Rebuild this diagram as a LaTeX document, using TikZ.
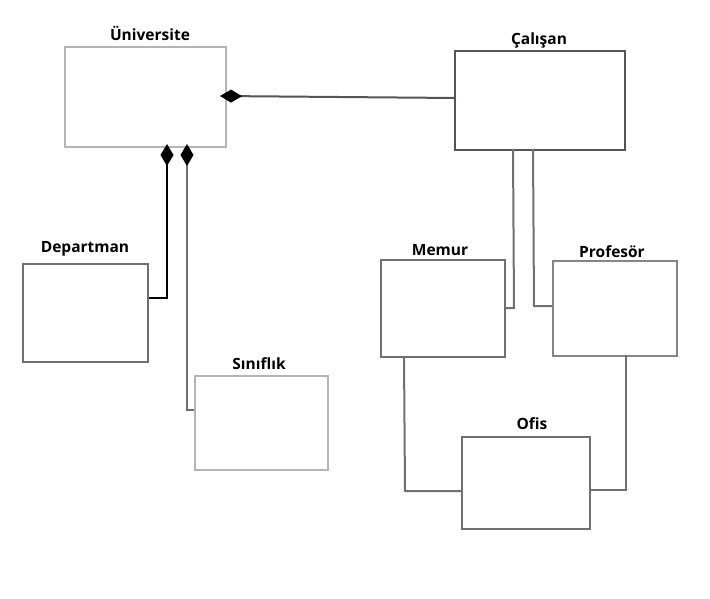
\documentclass[tikz,border=0pt]{standalone}
\usepackage{fontspec}
\setmainfont{Open Sans}
\usetikzlibrary{arrows.meta}
\definecolor{lgray}{HTML}{B4B4B4}
\definecolor{mgray}{HTML}{707070}
\definecolor{dgray}{HTML}{555555}
\begin{document}
\begin{tikzpicture}[x=1pt,y=-1pt,
  box/.style={draw=mgray,line width=2pt,anchor=north west,inner sep=0pt},
  lbl/.style={font=\bfseries\fontsize{15.5}{18}\selectfont,inner sep=0pt},
  conn/.style={draw=mgray,line width=2pt},
  dia/.style={{Diamond[length=22pt,width=13pt,color=black,fill=black]}-}]
\useasboundingbox (0,0) rectangle (710,599);
% boxes
\node[box,draw=lgray,minimum width=161,minimum height=100] (uni) at (64,46) {};
\node[box,draw=dgray,line width=2.3pt,minimum width=170,minimum height=99] (cal) at (454,50) {};
\node[box,minimum width=125,minimum height=98] (dep) at (22,263) {};
\node[box,draw=lgray,minimum width=133,minimum height=94] (sin) at (194,375) {};
\node[box,minimum width=124,minimum height=97] (mem) at (380,259) {};
\node[box,draw=mgray!85,minimum width=124,minimum height=95] (pro) at (552,260) {};
\node[box,minimum width=128,minimum height=92] (ofi) at (461,436) {};
% labels
\node[lbl] (unil) at (150,33) {Üniversite};
\node[lbl] (call) at (539,40) {Çalışan};
\node[lbl] (depl) at (85,249) {Departman};
\node[lbl] (sinl) at (259,364) {Sınıflık};
\node[lbl] (meml) at (440,250) {Memur};
\node[lbl] (prol) at (612,252) {Profesör};
\node[lbl] (ofil) at (532,424) {Ofis};
% helper coordinates
\coordinate (d1) at (167,144);
\coordinate (d1b) at (167,298);
\coordinate (d2) at (187,144);
\coordinate (d2b) at (187,410);
\coordinate (c1) at (513,149);
\coordinate (c1b) at (514,308);
\coordinate (c2) at (533,149);
\coordinate (c2b) at (534,306);
\coordinate (m1) at (404,356);
\coordinate (m1b) at (405,491);
\coordinate (p1) at (626,355);
\coordinate (p1b) at (626,490);
\coordinate (u1) at (220,96);
\coordinate (k1) at (456,98);
% connectors
\draw[conn,draw=dgray,dia] (u1) -- (k1);
\draw[conn,draw=black,dia] (d1) -- (d1b) -- (d1b -| dep.east);
\draw[conn,dia] (d2) -- (d2b) -- (d2b -| sin.west);
\draw[conn] (c1) -- (c1b) -- (c1b -| mem.east);
\draw[conn] (c2) -- (c2b) -- (c2b -| pro.west);
\draw[conn] (m1) -- (m1b) -- (m1b -| ofi.west);
\draw[conn] (p1) -- (p1b) -- (p1b -| ofi.east);
\end{tikzpicture}
\end{document}
